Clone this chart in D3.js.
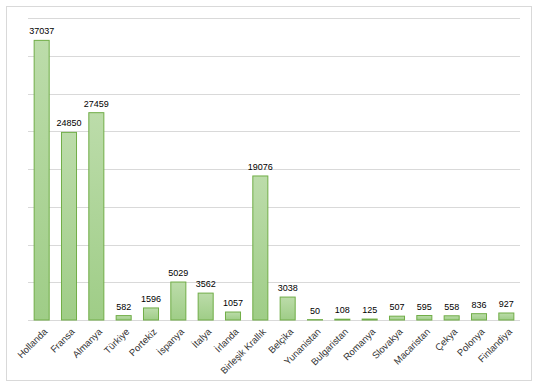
<!DOCTYPE html>
<html>
<head>
<meta charset="utf-8">
<script src="https://cdn.jsdelivr.net/npm/d3@7"></script>
<style>
  body { margin: 0; background: #fff; }
  text { font-family: "Liberation Sans", Arial, sans-serif; }
</style>
</head>
<body>
<div id="chart"></div>
<script>
// data
const countries = ["Hollanda", "Fransa", "Almanya", "Türkiye", "Portekiz", "İspanya", "İtalya", "İrlanda",
  "Birleşik Krallık", "Belçika", "Yunanistan", "Bulgaristan", "Romanya", "Slovakya", "Macaristan",
  "Çekya", "Polonya", "Finlandiya"];
const values = [37037, 24850, 27459, 582, 1596, 5029, 3562, 1057, 19076, 3038, 50, 108, 125, 507, 595, 558, 836, 927];
const yTicks = [0, 5000, 10000, 15000, 20000, 25000, 30000, 35000, 40000];

const W = 542, H = 385;
const plot = {left: 28, right: 520, top: 18, bottom: 320};

const svg = d3.select("#chart").append("svg")
  .attr("width", W)
  .attr("height", H);

// outer chart border
svg.append("rect")
  .attr("x", 6.5).attr("y", 6.5)
  .attr("width", 525).attr("height", 374)
  .attr("fill", "#fff")
  .attr("stroke", "#d9d9d9");

const defs = svg.append("defs");
const grad = defs.append("linearGradient")
  .attr("id", "barGrad")
  .attr("x1", 0).attr("y1", 0).attr("x2", 0).attr("y2", 1);
grad.append("stop").attr("offset", "0%").attr("stop-color", "#bcdcaa");
grad.append("stop").attr("offset", "100%").attr("stop-color", "#9fcd87");

const x = d3.scaleBand()
  .domain(countries)
  .range([plot.left, plot.right])
  .paddingInner(0.45)
  .paddingOuter(0.225);

const y = d3.scaleLinear()
  .domain([0, 40000])
  .range([plot.bottom, plot.top]);

// gridlines
svg.append("g")
  .selectAll("line")
  .data(yTicks)
  .join("line")
  .attr("x1", plot.left).attr("x2", plot.right)
  .attr("y1", d => Math.round(y(d)) + 0.5)
  .attr("y2", d => Math.round(y(d)) + 0.5)
  .attr("stroke", "#d9d9d9");

// bars
svg.append("g")
  .selectAll("rect")
  .data(values)
  .join("rect")
  .attr("x", (d, i) => x(countries[i]))
  .attr("y", d => y(d))
  .attr("width", x.bandwidth())
  .attr("height", d => y(0) - y(d))
  .attr("fill", "url(#barGrad)")
  .attr("stroke", "#70ad47")
  .attr("stroke-width", 1);

// value labels
svg.append("g")
  .selectAll("text")
  .data(values)
  .join("text")
  .attr("x", (d, i) => x(countries[i]) + x.bandwidth() / 2)
  .attr("y", d => y(d) - 6)
  .attr("text-anchor", "middle")
  .attr("font-size", 9)
  .attr("fill", "#000")
  .text(d => d);

// category axis labels
const xAxis = svg.append("g")
  .attr("transform", `translate(0,${plot.bottom})`)
  .call(d3.axisBottom(x).tickSize(0).tickPadding(0));
xAxis.select(".domain").remove();
xAxis.selectAll("text")
  .attr("font-size", 9.5)
  .attr("font-family", "'Liberation Sans', Arial, sans-serif")
  .attr("fill", "#333")
  .attr("text-anchor", "end")
  .attr("dy", "0.35em")
  .attr("transform", "translate(4,10) rotate(-45)");
</script>
</body>
</html>
